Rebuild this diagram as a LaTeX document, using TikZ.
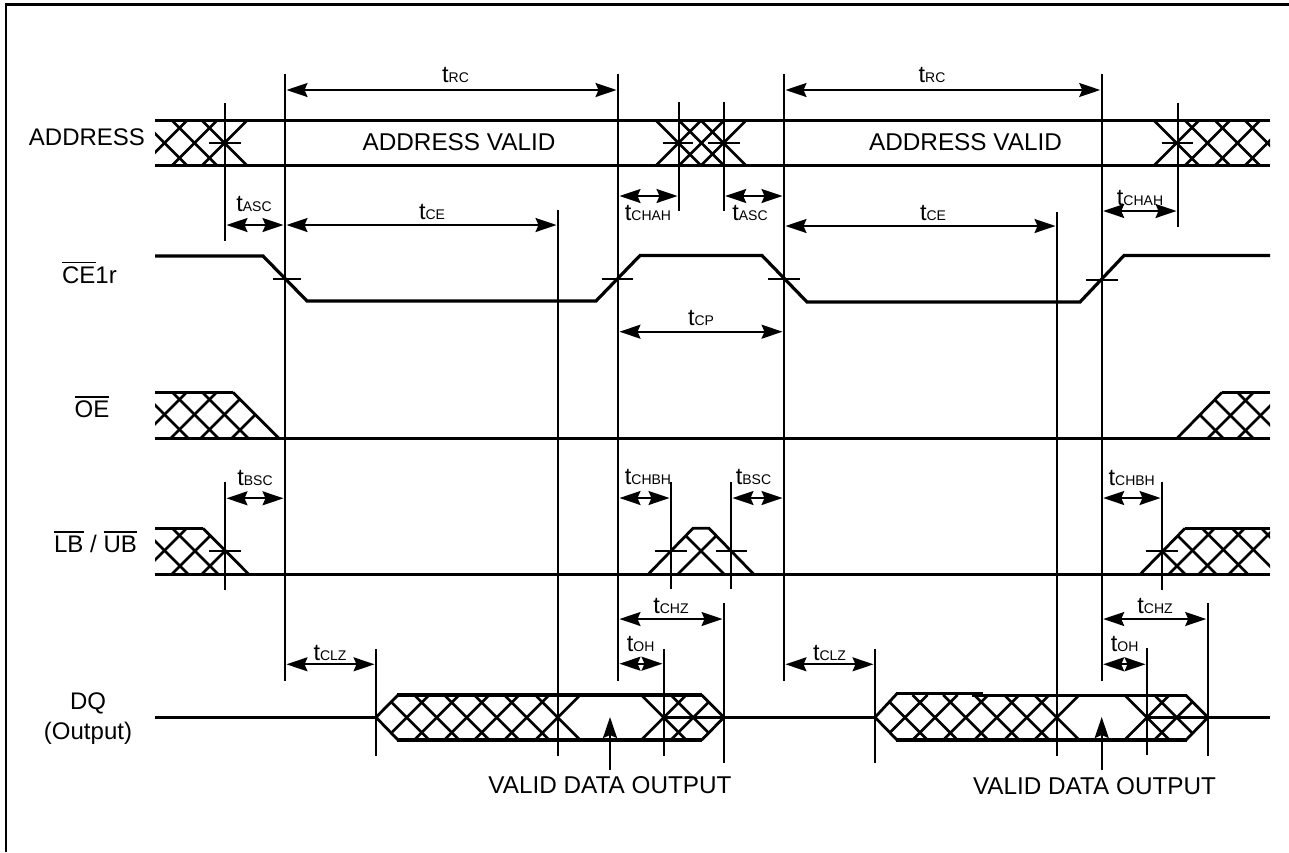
\documentclass[tikz,border=0pt]{standalone}
\usepackage{fontspec}
\setmainfont{Liberation Sans}
\usetikzlibrary{arrows.meta}
\tikzset{
  sigline/.style={line width=3.2pt,line join=miter,line cap=butt},
  slopeline/.style={line width=2.8pt,line join=miter},
  hatchline/.style={line width=2.6pt},
  guideline/.style={line width=2.3pt},
  tickline/.style={line width=2pt},
  dimarrow/.style={line width=1.8pt,{Stealth[length=21pt,width=14pt,inset=3pt]}-{Stealth[length=21pt,width=14pt,inset=3pt]},shorten <=1.5pt,shorten >=1.5pt},
  uparrow/.style={line width=2.2pt,-{Stealth[length=21pt,width=14pt,inset=3pt]}},
  framing/.style={line width=2.3pt},
  txt/.style={inner sep=0pt,outer sep=0pt,anchor=base,font=\fontsize{24}{26}\selectfont},
  wtxt/.style={txt,font=\fontsize{24.3}{26}\selectfont},
}
\newcommand\tlab[1]{{\fontsize{23.5}{26}\selectfont t}{\fontsize{14}{16}\selectfont #1}}
\newcommand\ovl[1]{\leavevmode\vbox{\hrule height 1.4pt \kern 3.1pt \hbox{#1}}}
% name, x1, x2, y, label x, label baseline, subscript
\newcommand\timing[7]{%
  \coordinate (#1a) at (#2,#4);
  \coordinate (#1b) at (#3,#4);
  \draw[dimarrow] (#1a) -- (#1b);
  \node[txt] (#1l) at (#5,#6) {\tlab{#7}};
}
% name, x, y1, y2
\newcommand\vguide[4]{%
  \coordinate (#1t) at (#2,#3);
  \coordinate (#1b) at (#2,#4);
  \draw[guideline] (#1t) -- (#1b);
}
\newcommand\tickm[3]{\draw[tickline] (#1,#3) -- (#2,#3);}
% clip path, ytop, ybot, top-x of \ lines, top-x of / lines
\newcommand\hatchband[5]{%
  \begin{scope}
    \clip #1;
    \pgfmathsetmacro\hh{#3-#2}
    \foreach \u in {#4} \draw[hatchline] (\u,#2) -- ({\u+\hh},#3);
    \foreach \v in {#5} \draw[hatchline] (\v,#2) -- ({\v-\hh},#3);
  \end{scope}
}
\begin{document}
\begin{tikzpicture}[x=1pt,y=-1pt]
\useasboundingbox (0,0) rectangle (1289,852);
\fill[white] (0,0) rectangle (1289,852);
% frame
\coordinate (f1) at (6,852); \coordinate (f2) at (6,4.5); \coordinate (f3) at (1289,4.5);
\draw[framing] (f1) -- (f2) -- (f3);

% ---- ADDRESS
\hatchband{(155,120.5) rectangle (250,165.5)}{120.5}{165.5}{142,172,202}{187,217,247}
\hatchband{(650,120.5) rectangle (750,165.5)}{120.5}{165.5}{656,679,701}{701,724,746}
\hatchband{(1150,120.5) rectangle (1270,165.5)}{120.5}{165.5}{1154,1185,1215,1245}{1199,1230,1260,1290}
\draw[sigline] (155,120.5) -- (1270,120.5);
\draw[sigline] (155,165.5) -- (1270,165.5);
\tickm{209}{241}{142.5}
\tickm{663}{693}{142.5}
\tickm{708}{740}{142.5}
\tickm{1162}{1193}{142.5}

% ---- CE1r
\draw[sigline] (155,256) -- (263,256) -- (307,301) -- (596,301) -- (640,255.5) -- (762,255.5) -- (807,302) -- (1080,302) -- (1124,255.5) -- (1270,255.5);
\tickm{273}{301}{279}
\tickm{602}{633}{279}
\tickm{768}{800}{279}
\tickm{1086}{1118}{279.5}

% ---- OE
\hatchband{(155,392) -- (233,392) -- (279,438.3) -- (155,438.3) -- cycle}{392}{438.3}{142,172,202}{187,217,247,278}
\hatchband{(1177,438.3) -- (1222,392) -- (1270,392) -- (1270,438.3) -- cycle}{392}{438.3}{1177,1207,1237}{1254,1284}
\draw[sigline] (155,438.3) -- (1270,438.3);
\draw[sigline] (155,392.3) -- (233,392.3);
\draw[slopeline] (233,392.3) -- (279,438.3);
\draw[slopeline] (1177,438.3) -- (1222,392.3);
\draw[sigline] (1222,392.3) -- (1270,392.3);

% ---- LB / UB
\hatchband{(155,528) -- (203,528) -- (249,574.5) -- (155,574.5) -- cycle}{528}{574.5}{142,172}{187,218,248}
\hatchband{(648,574.5) -- (693,528) -- (709,528) -- (754,574.5) -- cycle}{528}{574.5}{678}{724}
\hatchband{(1140,574.5) -- (1185,528) -- (1270,528) -- (1270,574.5) -- cycle}{528}{574.5}{1139,1170,1201.7,1231.7,1261}{1215,1245,1275}
\draw[sigline] (155,574.5) -- (1270,574.5);
\draw[sigline] (155,528.3) -- (203,528.3);
\draw[slopeline] (203,528.3) -- (249,574.5);
\draw[slopeline] (648,574.5) -- (693,528.3) -- (709,528.3) -- (754,574.5);
\draw[slopeline] (1140,574.5) -- (1185,528.3);
\draw[sigline] (1185,528.3) -- (1270,528.3);
\tickm{209}{241}{551}
\tickm{655}{687}{551}
\tickm{716}{747}{551}
\tickm{1146}{1178}{551}

% ---- DQ
\hatchband{(376,717.3) -- (398,695) -- (701.7,695) -- (724,717.3) -- (701.7,740) -- (398,740) -- cycle}{695}{740}{384.2,414.2,444.2,474.2,504.2,535.2,641.2,670.8}{429.2,459.2,489.2,519.2,549.2,580.2,686.2,715.8}
\hatchband{(875,717.3) -- (897,695) -- (1186,695) -- (1208,717.3) -- (1186,740) -- (897,740) -- cycle}{695}{740}{882.5,912.5,943.2,974.2,1004.2,1034.2,1124.5,1154.2}{927.5,957.5,988.2,1019.2,1049.2,1079.2,1169.5,1199.2}
\draw[sigline] (155,717.3) -- (376,717.3);
\draw[sigline] (724,717.3) -- (875,717.3);
\draw[sigline] (1208,717.3) -- (1270,717.3);
\draw[sigline] (664,717.3) -- (724,717.3);
\draw[sigline] (1147,717.3) -- (1208,717.3);
\draw[slopeline] (376,717.3) -- (398,695) (376,717.3) -- (398,740);
\draw[sigline] (397,695) -- (702,695);
\draw[sigline] (397,740) -- (702,740);
\draw[slopeline] (701.7,695) -- (724,717.3) -- (701.7,740);
\draw[slopeline] (875,717.3) -- (897,693.6) (875,717.3) -- (897,740);
\draw[sigline] (896,693.5) -- (983,693.5);
\draw[sigline] (972,695.3) -- (1186.5,695.3);
\draw[sigline] (896,740) -- (1186.5,740);
\draw[slopeline] (1186,695.3) -- (1208,717.3) -- (1186,740);

% ---- guide lines
\vguide{ga}{225}{103}{240.7}
\vguide{gb}{285}{74}{680.7}
\vguide{gc}{618}{74}{680.7}
\vguide{gd}{784}{74}{680.7}
\vguide{ge}{1101.7}{74}{680.7}
\vguide{gf}{679}{102}{210.7}
\vguide{gg}{723.7}{102}{210.5}
\vguide{gh}{1178}{103}{226.7}
\vguide{gi}{558}{210}{755.7}
\vguide{gj}{1057}{212}{755.7}
\vguide{gk}{225}{482}{590}
\vguide{gl}{671}{482}{589}
\vguide{gm}{731}{482}{589}
\vguide{gn}{1162}{482}{590}
\vguide{go}{376}{649}{755.7}
\vguide{gp}{875}{649}{763.3}
\vguide{gq}{724}{603}{763}
\vguide{gr}{664}{649}{755.7}
\vguide{gs}{1147}{648}{755}
\vguide{gt}{1207.7}{603}{755.7}

% ---- timing arrows
\timing{rca}{285}{618}{90}{455.5}{82}{RC}
\timing{rcb}{784}{1101.7}{90}{932}{82}{RC}
\timing{asca}{225}{285}{225}{254}{211}{ASC}
\timing{cea}{285}{558}{225}{432}{219.5}{CE}
\timing{chaha}{618}{679}{196}{648}{220}{CHAH}
\timing{ascb}{723.7}{784}{196}{750}{220}{ASC}
\timing{ceb}{784}{1057}{226}{933}{220}{CE}
\timing{chahb}{1101.7}{1178}{211}{1140}{205}{CHAH}
\timing{cp}{618}{784}{331.7}{701}{325.7}{CP}
\timing{bsca}{225}{285}{498.3}{255}{485}{BSC}
\timing{chbha}{618}{671}{498}{648}{484}{CHBH}
\timing{bscb}{731}{784}{498}{753.5}{484}{BSC}
\timing{chbhb}{1101.7}{1162}{498}{1131.7}{485}{CHBH}
\timing{chza}{618}{724}{619}{671}{613.3}{CHZ}
\timing{chzb}{1101.7}{1207.7}{619}{1155}{613}{CHZ}
\timing{oha}{618}{664}{663.7}{640.7}{651}{OH}
\timing{ohb}{1101.7}{1147}{664.3}{1124.7}{651.5}{OH}
\timing{clza}{285}{376}{664.3}{330}{660}{CLZ}
\timing{clzb}{784}{875}{664.3}{829.5}{660}{CLZ}

% ---- text
\node[txt] (address) at (87,145.7) {ADDRESS};
\node[txt] (ce) at (89.5,283.3) {\ovl{CE}1r};
\node[txt] (oe) at (92,417.7) {\ovl{OE}};
\node[txt] (lbub) at (95.5,552.3) {\ovl{LB} / \ovl{UB}};
\node[txt] (dq) at (88,709) {DQ};
\node[txt] (dqo) at (88,739.3) {(Output)};
\node[wtxt] (va) at (459,150) {ADDRESS VALID};
\node[wtxt] (vb) at (965.5,150) {ADDRESS VALID};
\node[wtxt] (vda) at (610,793) {VALID DATA OUTPUT};
\node[wtxt] (vdb) at (1094.5,794.5) {VALID DATA OUTPUT};
\coordinate (pa0) at (610,770); \coordinate (pa1) at (610,717);
\coordinate (pb0) at (1101.7,770); \coordinate (pb1) at (1101.7,717);
\draw[uparrow] (pa0) -- (pa1);
\draw[uparrow] (pb0) -- (pb1);
\end{tikzpicture}
\end{document}
